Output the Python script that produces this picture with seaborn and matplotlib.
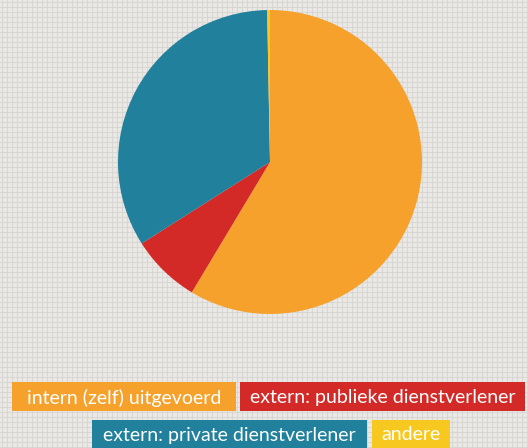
import matplotlib
matplotlib.use("Agg")
import matplotlib.pyplot as plt
import seaborn as sns
from matplotlib.patches import Rectangle

categories = ["intern (zelf) uitgevoerd", "extern: publieke dienstverlener",
              "extern: private dienstverlener", "andere"]
values = [58.6, 7.4, 33.7, 0.3]
colors = ["#f5a12c", "#d42a27", "#21809c", "#f7c81f"]

sns.set_theme(style="white")
plt.rcParams['font.family'] = ['Lato', 'DejaVu Sans']

W, H = 528, 448
fig = plt.figure(figsize=(W / 100, H / 100), dpi=100)
bg_col = "#ebe9e6"
fig.patch.set_facecolor(bg_col)

# background grid
bg = fig.add_axes([0, 0, 1, 1])
bg.set_xlim(0, W)
bg.set_ylim(H, 0)
bg.set_facecolor(bg_col)
for x in range(2, W, 5):
    bg.axvline(x, color="#d9d7d4", lw=0.8, zorder=0)
for y in range(2, H, 5):
    bg.axhline(y, color="#d9d7d4", lw=0.8, zorder=0)
bg.axis("off")

# pie
cx, cy, r = 270, 162, 152
ax = fig.add_axes([(cx - r) / W, 1 - (cy + r) / H, 2 * r / W, 2 * r / H])
ax.pie(values, colors=colors, startangle=90, counterclock=False,
       radius=1, wedgeprops=dict(linewidth=0))
ax.set_xlim(-1, 1)
ax.set_ylim(-1, 1)
ax.set_aspect("equal")
ax.axis("off")

# legend boxes (pixel coords)
boxes = [(12, 382, 224, 29), (240, 382, 285, 29), (92, 420, 275, 28), (372, 420, 78, 28)]
for (x0, y0, w, h), lab, col in zip(boxes, categories, colors):
    bg.add_patch(Rectangle((x0, y0), w, h, facecolor=col, edgecolor="none", zorder=2))
    bg.text(x0 + w / 2, y0 + h / 2 + 1, lab, color="white", ha="center", va="center",
            fontsize=14, zorder=3)

fig.savefig("out.png", dpi=100, facecolor=bg_col)
